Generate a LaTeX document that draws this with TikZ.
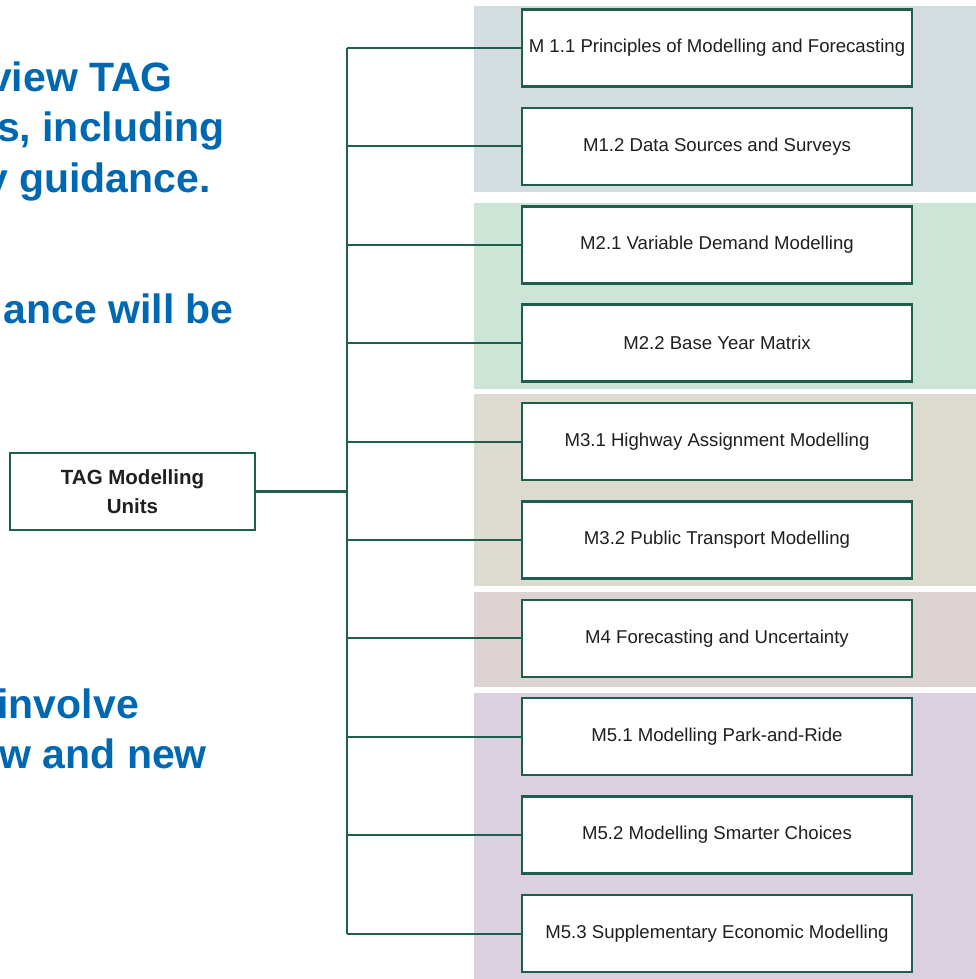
\documentclass[tikz,border=0pt]{standalone}
\usepackage{xcolor}
\usepackage{fontspec}
\setmainfont{Liberation Sans}
\usepackage{tikz}
\usetikzlibrary{calc}
\usetikzlibrary{positioning}
\definecolor{tagline}{HTML}{1D5E4C}
\definecolor{tagblue}{HTML}{0067B1}
\definecolor{bandA}{HTML}{D3DCDE}
\definecolor{bandB}{HTML}{CCE5D6}
\definecolor{bandC}{HTML}{DDDBD0}
\definecolor{bandD}{HTML}{DCD3D2}
\definecolor{bandE}{HTML}{DAD0E0}
\tikzstyle{unit} = [rectangle, draw=tagline, line width=2.5pt, fill=white, minimum width=390pt, minimum height=77pt, inner sep=0pt, text=black!88, font=\fontsize{18.6}{22}\selectfont]
\tikzstyle{branch} = [-, draw=tagline, line width=2pt]
\tikzstyle{blurb} = [anchor=base east, inner sep=0pt, text=tagblue, font=\bfseries\fontsize{41}{50}\selectfont]

\begin{document}
\begin{tikzpicture}[x=1pt, y=-1pt]
\useasboundingbox (0,0) rectangle (975,979);
% coloured bands behind the units
\fill [bandA] (474,6) rectangle (976,192);
\fill [bandB] (474,203) rectangle (976,389);
\fill [bandC] (474,394) rectangle (976,586);
\fill [bandD] (474,592) rectangle (976,687);
\fill [bandE] (474,693) rectangle (976,980);
% text running in from the left
\node [blurb] (t1) at (173,92) {view TAG};
\node [blurb] (t2) at (225,142) {s, including};
\node [blurb] (t3) at (211,192) {y guidance.};
\node [blurb] (t4) at (234,323) {ance will be};
\node [blurb] (t5) at (139,718) {involve};
\node [blurb] (t6) at (207,768) {w and new};
\node [rectangle, draw=tagline, line width=2.5pt, minimum width=245pt, minimum height=77pt, inner sep=0pt, align=center, text=black!88, font=\bfseries\fontsize{20.5}{29}\selectfont] (TAG) at (132.5,491.5) {TAG Modelling\\Units};
\node [unit] (M11) at (717,48) {M 1.1 Principles of Modelling and Forecasting};
\node [unit] (M12) at (717,146.4) {M1.2 Data Sources and Surveys};
\node [unit] (M21) at (717,244.8) {M2.1 Variable Demand Modelling};
\node [unit] (M22) at (717,343.2) {M2.2 Base Year Matrix};
\node [unit] (M31) at (717,441.6) {M3.1 Highway Assignment Modelling};
\node [unit] (M32) at (717,540) {M3.2 Public Transport Modelling};
\node [unit] (M4) at (717,638.3) {M4 Forecasting and Uncertainty};
\node [unit] (M51) at (717,736.7) {M5.1 Modelling Park-and-Ride};
\node [unit] (M52) at (717,835.1) {M5.2 Modelling Smarter Choices};
\node [unit] (M53) at (717,933.5) {M5.3 Supplementary Economic Modelling};
\coordinate (J) at (347,491.5);
\draw [branch, line width=3pt] (TAG.east) to (J);
\draw [branch] (J |- M11.west) to (J |- M53.west);
\draw [branch] (J |- M11.west) to (M11.west);
\draw [branch] (J |- M12.west) to (M12.west);
\draw [branch] (J |- M21.west) to (M21.west);
\draw [branch] (J |- M22.west) to (M22.west);
\draw [branch] (J |- M31.west) to (M31.west);
\draw [branch] (J |- M32.west) to (M32.west);
\draw [branch] (J |- M4.west) to (M4.west);
\draw [branch] (J |- M51.west) to (M51.west);
\draw [branch] (J |- M52.west) to (M52.west);
\draw [branch] (J |- M53.west) to (M53.west);
\end{tikzpicture}
\end{document}
